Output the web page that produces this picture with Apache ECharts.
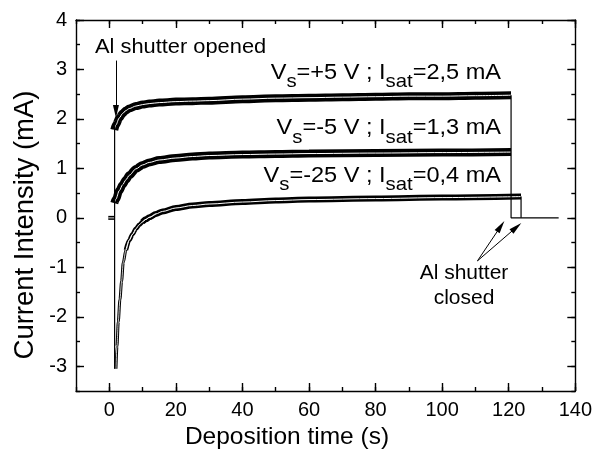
<!DOCTYPE html>
<html>
<head>
<meta charset="utf-8">
<script src="https://cdn.jsdelivr.net/npm/echarts@6/dist/echarts.min.js"></script>
<style>html,body{margin:0;padding:0;background:#fff}#c{width:595px;height:460px}</style>
</head>
<body>
<div id="c"></div>
<script>
// ---- data ----
const timeTop = [1.5, 2, 3, 4, 5, 6, 8, 10, 12, 15, 20, 25, 30, 40, 50, 60, 70, 80, 90, 100, 110, 120.7];
const valTop  = [1.78, 1.88, 2.02, 2.11, 2.17, 2.21, 2.26, 2.29, 2.31, 2.33, 2.35, 2.36, 2.37, 2.40, 2.42, 2.43, 2.44, 2.45, 2.46, 2.46, 2.47, 2.48];
const timeMid = [1.5, 2, 3, 4, 5, 6, 8, 10, 12, 15, 20, 25, 30, 40, 50, 60, 80, 100, 120.7];
const valMid  = [0.30, 0.38, 0.55, 0.67, 0.77, 0.86, 0.99, 1.07, 1.12, 1.17, 1.21, 1.24, 1.26, 1.28, 1.29, 1.30, 1.31, 1.32, 1.33];
const timeLowSteep = [2, 2.3, 2.7, 3.2, 3.7, 4.2, 5, 6, 7, 8];
const valLowSteep  = [-3.05, -2.6, -2.1, -1.65, -1.28, -0.9, -0.65, -0.45, -0.33, -0.22];
const timeLowKnee = [5, 6, 7, 8, 9, 10, 11, 12, 14];
const valLowKnee  = [-0.65, -0.45, -0.33, -0.22, -0.14, -0.08, -0.03, 0.01, 0.08];
const timeLow = [10, 11, 12, 14, 16, 20, 25, 30, 40, 50, 60, 80, 100, 123.7];
const valLow  = [-0.08, -0.03, 0.01, 0.08, 0.13, 0.20, 0.25, 0.28, 0.32, 0.35, 0.37, 0.39, 0.41, 0.43];
const timeBase = [-0.3, 1.6];
const valBase  = [0, 0];
const timeStartJump = [1.6, 1.6];
const valStartJump  = [-3.05, 1.9];
const timeEndA = [120.7, 120.7, 135];
const valEndA  = [2.48, 0, 0];
const timeEndB = [123.7, 123.7];
const valEndB  = [0.43, 0];
const xMajor = [0, 20, 40, 60, 80, 100, 120, 140];
const yMajor = [-3, -2, -1, 0, 1, 2, 3, 4];
const arrowOpened = [[2, 3.18], [2, 2.15]];
const arrowClosed1 = [[110.6, -0.87], [117.6, -0.17]];
const arrowClosed2 = [[110.6, -0.87], [122.3, -0.19]];
const labels = [
  {vs: '+5', isat: '2,5'},
  {vs: '-5', isat: '1,3'},
  {vs: '-25', isat: '0,4'}
];

// ---- chart ----
const FONT = "'Liberation Sans', Arial, Helvetica, sans-serif";
const zip = (a, b) => a.map((v, i) => [v, b[i]]);
const chart = echarts.init(document.getElementById('c'), null, {renderer: 'canvas'});
const axLine = {color: '#000', width: 1.4};

function xAx(pos, major, labelsOn) {
  return {
    type: 'value', position: pos, min: -10, max: 140, interval: 10,
    axisLine: {show: !major, onZero: false, lineStyle: axLine},
    axisTick: major ? {show: true, inside: true, length: 8, lineStyle: axLine, customValues: xMajor}
                    : {show: true, inside: true, length: 4, lineStyle: axLine},
    axisLabel: labelsOn ? {show: true, color: '#000', fontSize: 20, fontFamily: FONT, margin: 9,
                formatter: v => (v >= 0 && v % 20 === 0) ? String(v) : ''} : {show: false},
    splitLine: {show: false}
  };
}
function yAx(pos, major, labelsOn) {
  return {
    type: 'value', position: pos, min: -3.5, max: 4, interval: 0.5,
    axisLine: {show: !major, onZero: false, lineStyle: axLine},
    axisTick: major ? {show: true, inside: true, length: 8, lineStyle: axLine, customValues: yMajor}
                    : {show: true, inside: true, length: 4, lineStyle: axLine},
    axisLabel: labelsOn ? {show: true, color: '#000', fontSize: 20, fontFamily: FONT, margin: 9,
                formatter: v => Number.isInteger(v) ? String(v) : ''} : {show: false},
    splitLine: {show: false}
  };
}

function band(name, t, v, w, fw, zb) {
  zb = zb || 3;
  return [
    {name: name, type: 'line', data: zip(t, v), showSymbol: false, smooth: 0.3, smoothMonotone: 'x',
     lineStyle: {color: '#000', width: w}, silent: true, z: zb, animation: false},
    {name: name + '-fit', type: 'line', data: zip(t, v), showSymbol: false, smooth: 0.3, smoothMonotone: 'x',
     lineStyle: {color: '#fff', width: fw}, silent: true, z: 10 + zb, animation: false}
  ];
}
function thin(t, v) {
  return {type: 'line', data: zip(t, v), showSymbol: false, lineStyle: {color: '#000', width: 1.2},
          silent: true, z: 20, animation: false};
}
function arrowLine(a) {
  return [{coord: a[0], symbol: 'none'}, {coord: a[1], symbol: 'triangle', symbolSize: [6, 13]}];
}

const series = [].concat(
  band('top', timeTop, valTop, 8, 1),
  band('mid', timeMid, valMid, 8, 1),
  band('low', timeLow, valLow, 6, 1, 1),
  band('lowKnee', timeLowKnee, valLowKnee, 4.5, 1, 2),
  band('lowSteep', timeLowSteep, valLowSteep, 3, 0.8, 3),
  band('base', timeBase, valBase, 4, 1),
  [thin(timeStartJump, valStartJump), thin(timeEndA, valEndA), thin(timeEndB, valEndB)]
);
series.push({
  type: 'line', data: [], silent: true, animation: false,
  markLine: {
    silent: true, animation: false, symbol: ['none', 'triangle'],
    label: {show: false},
    lineStyle: {color: '#000', width: 1, type: 'solid'},
    data: [arrowLine(arrowOpened), arrowLine(arrowClosed1), arrowLine(arrowClosed2)]
  }
});

function richLabel(l) {
  return '{m|V}{s|s}{m|=' + l.vs + ' V ; I}{s|sat}{m|=' + l.isat + ' mA}';
}
const rich = {
  m: {fontSize: 22, lineHeight: 22, verticalAlign: 'top', fontFamily: FONT, color: '#000'},
  s: {fontSize: 19, lineHeight: 19, verticalAlign: 'top', fontFamily: FONT, color: '#000', padding: [11, 0, 0, 0]}
};
const labelTops = [61.5, 117, 164.5];

const graphic = [
  {type: 'text', x: 25, y: 225, rotation: Math.PI / 2, silent: true,
   style: {text: 'Current Intensity (mA)', font: '27.5px ' + FONT, fill: '#000', textAlign: 'center', textVerticalAlign: 'middle'}},
  {type: 'text', x: 287, y: 437, silent: true,
   style: {text: 'Deposition time (s)', font: '24.5px ' + FONT, fill: '#000', textAlign: 'center', textVerticalAlign: 'middle'}},
  {type: 'text', x: 95, y: 47.5, silent: true, scaleX: 1.04,
   style: {text: 'Al shutter opened', font: '21px ' + FONT, fill: '#000', textAlign: 'left', textVerticalAlign: 'middle'}},
  {type: 'text', x: 464, y: 286, silent: true,
   style: {text: 'Al shutter\nclosed', font: '21px ' + FONT, fill: '#000', textAlign: 'center', textVerticalAlign: 'middle', lineHeight: 25}}
].concat(labels.map((l, i) => ({
  type: 'text', x: 501, y: labelTops[i], silent: true, scaleX: 1.07,
  style: {text: richLabel(l), rich: rich, textAlign: 'right', textVerticalAlign: 'top', fill: '#000'}
})));

chart.setOption({
  animation: false,
  backgroundColor: '#fff',
  grid: {left: 76, right: 19, top: 20, bottom: 69, containLabel: false},
  xAxis: [xAx('bottom', false, true), xAx('bottom', true, false), xAx('top', false, false), xAx('top', true, false)],
  yAxis: [yAx('left', false, true), yAx('left', true, false), yAx('right', false, false), yAx('right', true, false)],
  series: series,
  graphic: graphic
});
</script>
</body>
</html>
